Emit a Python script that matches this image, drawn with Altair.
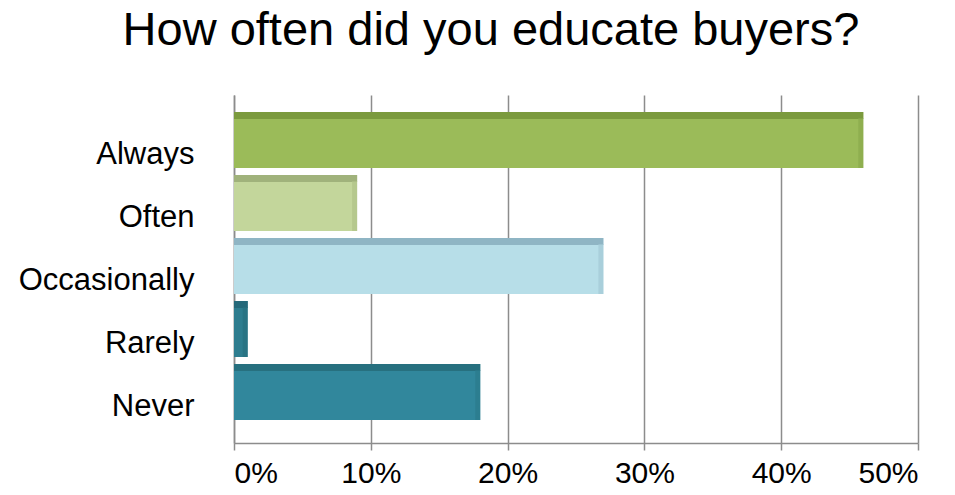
import altair as alt
import pandas as pd

categories = ["Always", "Often", "Occasionally", "Rarely", "Never"]
values = [46, 9, 27, 1, 18]
front_colors = ["#9BBB59", "#C3D69B", "#B7DEE8", "#2E7D8F", "#31879C"]
top_colors = ["#7B9A3E", "#A0B27B", "#8FB5C4", "#25697A", "#27707F"]
side_colors = ["#8AA94C", "#AFC287", "#A3C9D5", "#28707F", "#2B7A8C"]
x_ticks = [0, 10, 20, 30, 40, 50]

df = pd.DataFrame({
    "cat": categories,
    "val": values,
    "front": front_colors,
    "top": top_colors,
    "side": side_colors,
})

y_enc = alt.Y(
    "cat:N",
    sort=categories,
    scale=alt.Scale(paddingInner=0.111, paddingOuter=0.3175, align=0.425),
    axis=alt.Axis(
        title=None,
        ticks=False,
        domain=True,
        domainColor="#8c8c8c",
        domainWidth=1.5,
        labelFont="Liberation Sans",
        labelFontSize=31,
        labelColor="#000000",
        labelPadding=40,
        labelOffset=15,
    ),
)

x_enc = alt.X(
    "val:Q",
    scale=alt.Scale(domain=[0, 50], nice=False),
    axis=alt.Axis(
        title=None,
        values=x_ticks,
        labelExpr="datum.value + '%'",
        labelFont="Liberation Sans",
        labelFontSize=30,
        labelColor="#000000",
        labelPadding=8,
        tickSize=7,
        tickColor="#8c8c8c",
        tickWidth=1.5,
        domainColor="#8c8c8c",
        domainWidth=1.5,
        grid=True,
        gridColor="#8c8c8c",
        gridWidth=1.5,
    ),
)

base = alt.Chart(df)

front = base.mark_bar().encode(
    x=x_enc,
    y=y_enc,
    color=alt.Color("front:N", scale=None),
)

top = base.mark_bar(height=7, yOffset=-24.5).encode(
    x="val:Q",
    y=alt.Y("cat:N", sort=categories),
    color=alt.Color("top:N", scale=None),
)

side = base.mark_tick(orient="vertical", thickness=5, size=50, xOffset=-2.5, yOffset=3).encode(
    x="val:Q",
    y=alt.Y("cat:N", sort=categories),
    color=alt.Color("side:N", scale=None),
)

chart = alt.layer(front, top, side).properties(
    width=684,
    height=348,
    title=alt.TitleParams(
        "How often did you educate buyers?",
        font="Liberation Sans",
        fontSize=47,
        fontWeight="normal",
        color="#000000",
        anchor="middle",
        frame="group",
        dx=-85,
        offset=40,
    ),
    autosize=alt.AutoSizeParams(type="none"),
    padding={"left": 226, "top": 87, "right": 29, "bottom": 44},
).configure_view(stroke=None)

chart.save("out.html", embed_options={"renderer": "svg", "actions": False})
